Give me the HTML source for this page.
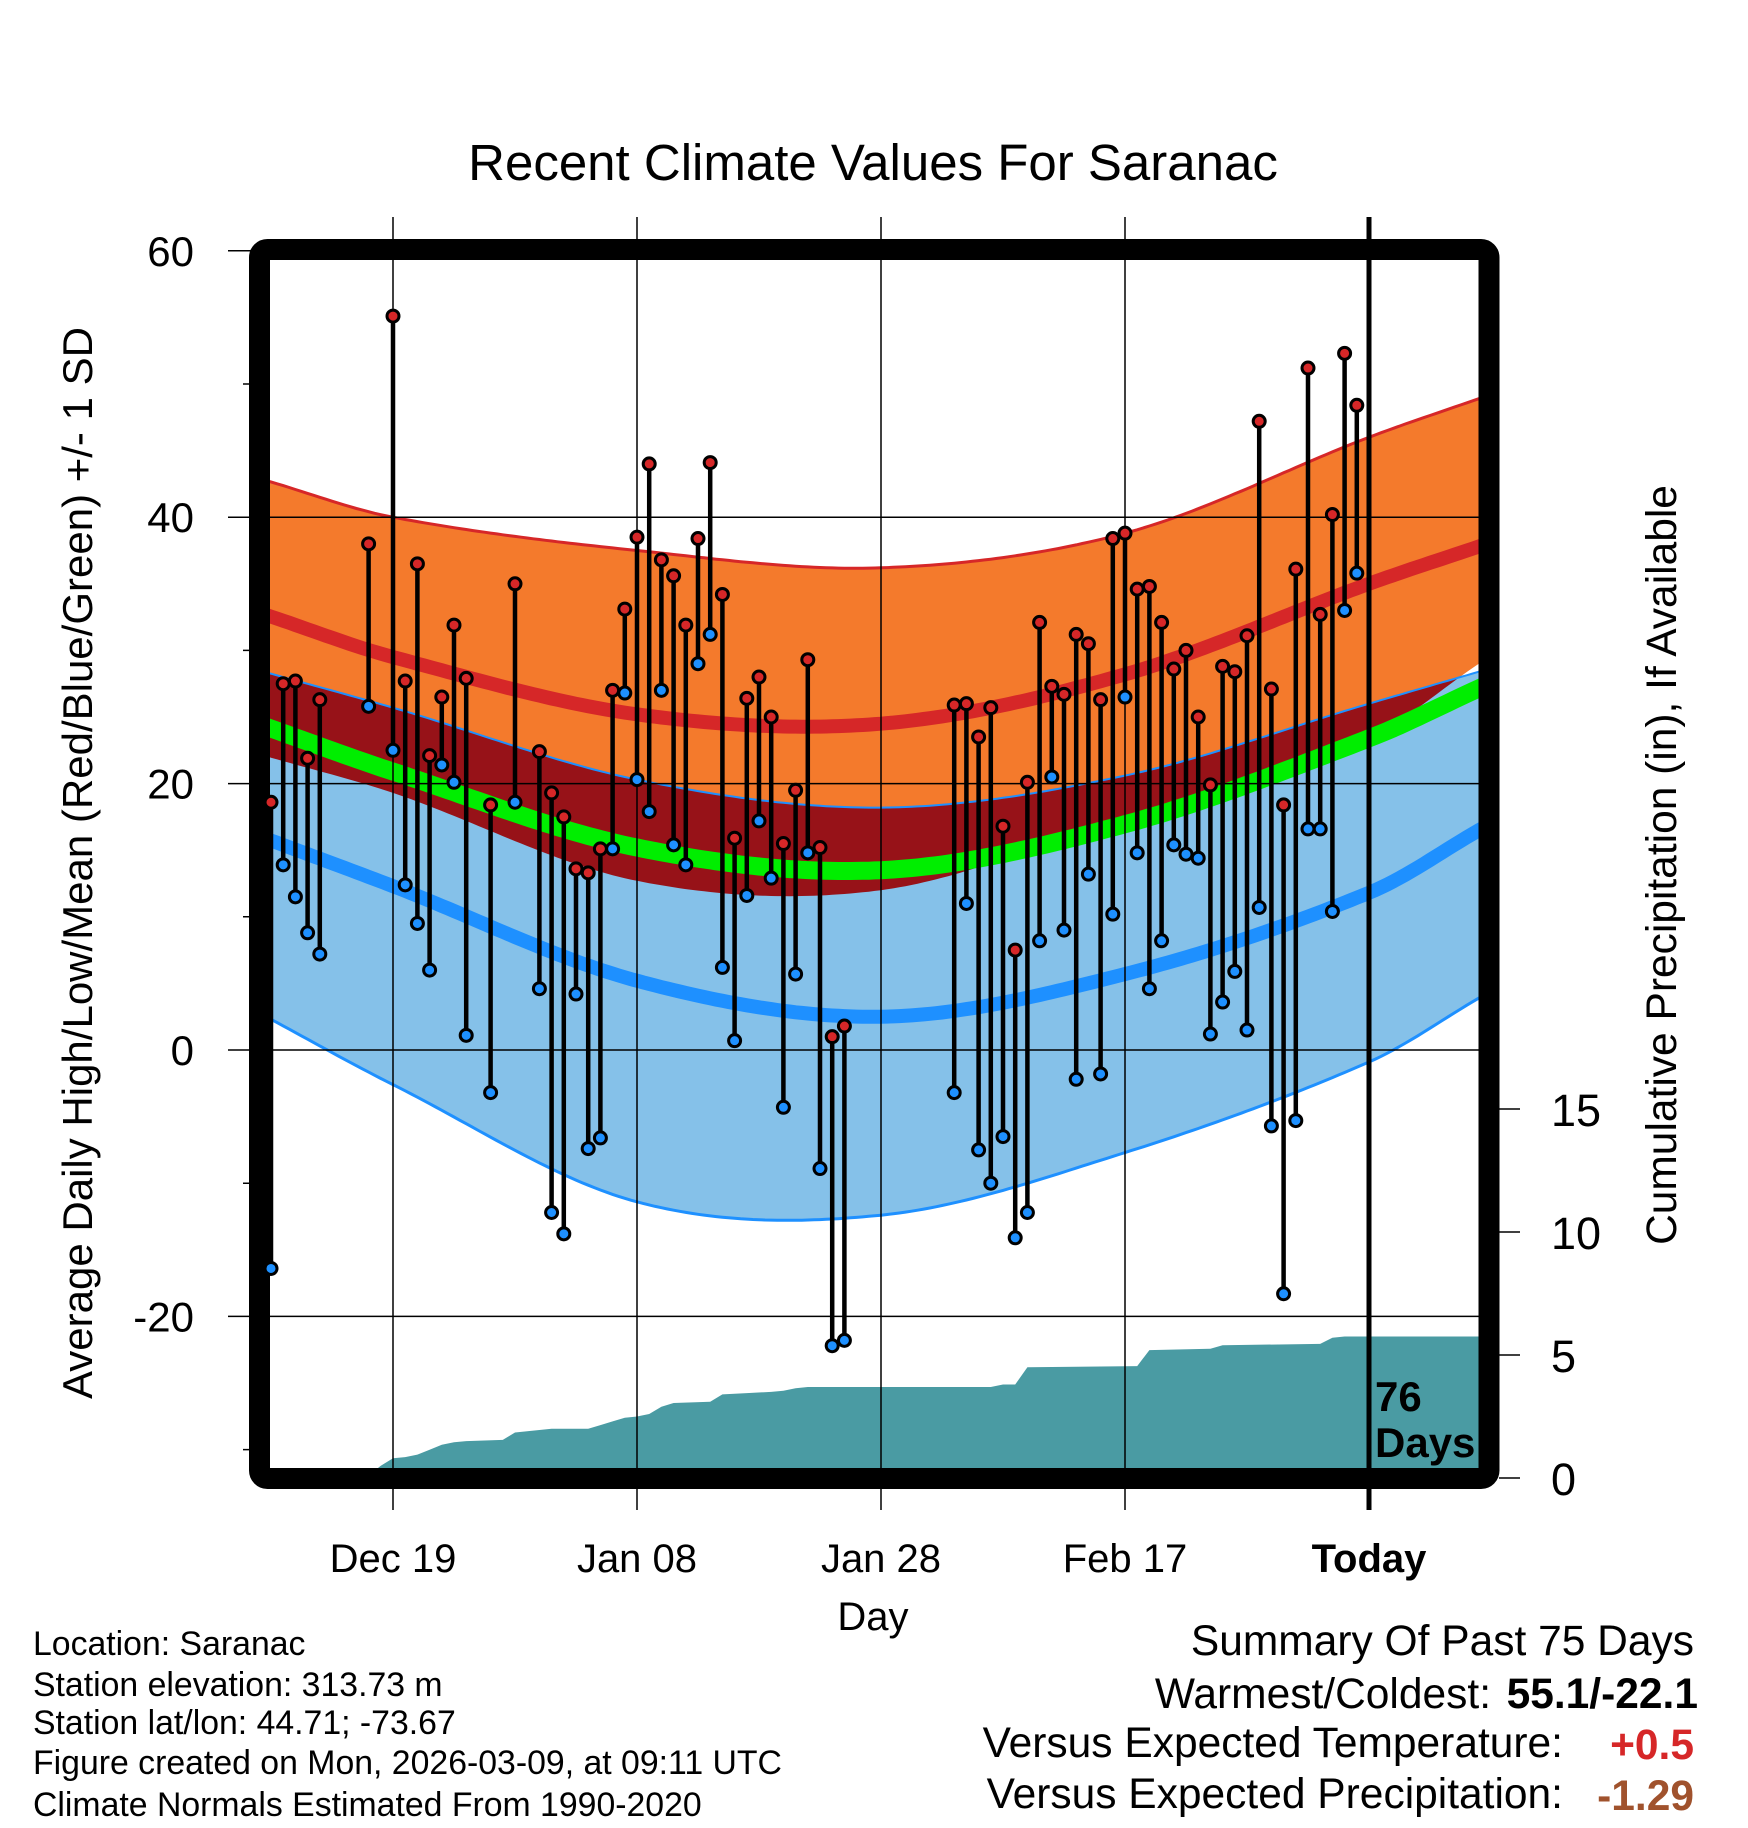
<!DOCTYPE html>
<html><head><meta charset="utf-8">
<style>
html,body{margin:0;padding:0;background:#fff;}
svg{display:block;font-family:"Liberation Sans",Arial,sans-serif;}
</style></head>
<body>
<svg id="chart" width="1748" height="1828" viewBox="0 0 1748 1828" xmlns="http://www.w3.org/2000/svg">
<defs><clipPath id="plotclip"><rect x="270" y="260" width="1209" height="1209"/></clipPath></defs>
<text x="873" y="180" font-size="51" text-anchor="middle">Recent Climate Values For Saranac</text>
<g id="bands" clip-path="url(#plotclip)"></g>
<g id="precip" clip-path="url(#plotclip)"></g>
<g id="grid"></g>
<g id="frame"></g>
<g id="points"></g>
<g id="axes"></g>
<text x="1375" y="1411" font-size="42" font-weight="bold">76</text>
<text x="1375" y="1457" font-size="42" font-weight="bold">Days</text>
<text transform="translate(92,863) rotate(-90)" font-size="42" text-anchor="middle">Average Daily High/Low/Mean (Red/Blue/Green) +/- 1 SD</text>
<text transform="translate(1676,865) rotate(-90)" font-size="42.5" text-anchor="middle">Cumulative Precipitation (in), If Available</text>
<text x="873" y="1630" font-size="40" text-anchor="middle">Day</text>
<g font-size="33.8">
<text x="33" y="1655">Location: Saranac</text>
<text x="33" y="1696">Station elevation: 313.73 m</text>
<text x="33" y="1734">Station lat/lon: 44.71; -73.67</text>
<text x="33" y="1774">Figure created on Mon, 2026-03-09, at 09:11 UTC</text>
<text x="33" y="1816">Climate Normals Estimated From 1990-2020</text>
</g>
<g font-size="42.5" text-anchor="end">
<text x="1694" y="1655">Summary Of Past 75 Days</text>
<text x="1491" y="1708">Warmest/Coldest:</text>
<text x="1698" y="1708" font-weight="bold">55.1/-22.1</text>
<text x="1563" y="1757">Versus Expected Temperature:</text>
<text x="1694" y="1759" font-weight="bold" fill="#d62728">+0.5</text>
<text x="1563" y="1808">Versus Expected Precipitation:</text>
<text x="1694" y="1810" font-weight="bold" fill="#a0522d">-1.29</text>
</g>
</svg>
<script>
// ---- data ----
const days = [-10,-9,-8,-7,-6,-2,0,1,2,3,4,5,6,8,10,12,13,14,15,16,17,18,19,20,21,22,23,24,25,26,27,28,29,30,31,32,33,34,35,36,37,46,47,48,49,50,51,52,53,54,55,56,57,58,59,60,61,62,63,64,65,66,67,68,69,70,71,72,73,74,75,76,77,78,79];
const highs = [18.6,27.5,27.7,21.9,26.3,38.0,55.1,27.7,36.5,22.1,26.5,31.9,27.9,18.4,35.0,22.4,19.3,17.5,13.6,13.3,15.1,27.0,33.1,38.5,44.0,36.8,35.6,31.9,38.4,44.1,34.2,15.9,26.4,28.0,25.0,15.5,19.5,29.3,15.2,1.0,1.8,25.9,26.0,23.5,25.7,16.8,7.5,20.1,32.1,27.3,26.7,31.2,30.5,26.3,38.4,38.8,34.6,34.8,32.1,28.6,30.0,25.0,19.9,28.8,28.4,31.1,47.2,27.1,18.4,36.1,51.2,32.7,40.2,52.3,48.4];
const lows = [-16.4,13.9,11.5,8.8,7.2,25.8,22.5,12.4,9.5,6.0,21.4,20.1,1.1,-3.2,18.6,4.6,-12.2,-13.8,4.2,-7.4,-6.6,15.1,26.8,20.3,17.9,27.0,15.4,13.9,29.0,31.2,6.2,0.7,11.6,17.2,12.9,-4.3,5.7,14.8,-8.9,-22.2,-21.8,-3.2,11.0,-7.5,-10.0,-6.5,-14.1,-12.2,8.2,20.5,9.0,-2.2,13.2,-1.8,10.2,26.5,14.8,4.6,8.2,15.4,14.7,14.4,1.2,3.6,5.9,1.5,10.7,-5.7,-18.3,-5.3,16.6,16.6,10.4,33.0,35.8];
const normDays = [-10.2,0,20,40,60,80,89];
const hiUp = [42.7,40.0,37.5,36.2,38.8,46.0,48.9];
const hiMean = [32.6,29.5,25.2,24.5,28.2,35.0,37.8];
const hiDn = [22.0,19.3,12.7,12.0,17.5,23.5,29.0];
const loUp = [28.3,25.7,20.3,18.2,20.6,26.0,28.4];
const loMean = [15.8,12.3,5.2,2.5,5.7,11.8,16.5];
const loDn = [2.4,-2.6,-11.4,-12.4,-7.7,-0.9,3.9];
const precipDays = [-10,-4,-3,-2,-1,0,1,2,3,4,5,6,9,10,11,12,13,16,17,18,19,20,21,22,23,26,27,29,31,32,33,34,49,50,51,52,61,62,67,68,76,77,78,79];
const precipCum = [0,0,0.05,0.1,0.5,0.8,0.85,0.95,1.15,1.35,1.45,1.5,1.55,1.85,1.9,1.95,2.0,2.0,2.15,2.3,2.45,2.5,2.6,2.9,3.05,3.1,3.4,3.45,3.5,3.55,3.65,3.7,3.7,3.8,3.8,4.5,4.55,5.2,5.25,5.4,5.45,5.7,5.75,5.75];
const yTicks = [60,40,20,0,-20];
const yMinor = [50,30,10,-10,-30];
const pTicks = [0,5,10,15];
const xTickDays = [0,20,40,60,80];
const xTickLabels = ["Dec 19","Jan 08","Jan 28","Feb 17","Today"];

// ---- scales ----
const X = d => 393 + 12.2*d;
const Y = v => 1050 - 13.32*v;
const P = p => 1478 - 24.6*p;
const NS = "http://www.w3.org/2000/svg";
function mk(tag, attrs, parent){const e=document.createElementNS(NS,tag);for(const k in attrs)e.setAttribute(k,attrs[k]);parent.appendChild(e);return e;}
function interp(xs, ys, x){
  let i=0; while(i<xs.length-2 && x>xs[i+1]) i++;
  const x0=xs[i],x1=xs[i+1],y0=ys[i],y1=ys[i+1];
  const m=(k)=>{ if(k<=0) return (ys[1]-ys[0])/(xs[1]-xs[0]); if(k>=xs.length-1) return (ys[k]-ys[k-1])/(xs[k]-xs[k-1]); return (ys[k+1]-ys[k-1])/(xs[k+1]-xs[k-1]);};
  const h=x1-x0, t=(x-x0)/h, t2=t*t, t3=t2*t;
  return (2*t3-3*t2+1)*y0+(t3-2*t2+t)*h*m(i)+(-2*t3+3*t2)*y1+(t3-t2)*h*m(i+1);
}
const samp=[]; for(let d=-10.5; d<=89.5; d+=0.5) samp.push(d);
const cv = arr => samp.map(d=>interp(normDays,arr,d));
const sHiUp=cv(hiUp), sHiM=cv(hiMean), sHiDn=cv(hiDn), sLoUp=cv(loUp), sLoM=cv(loMean), sLoDn=cv(loDn);
const sMean = sHiM.map((v,i)=>(v+sLoM[i])/2);
const line = arr => samp.map((d,i)=>(i?'L':'M')+X(d).toFixed(1)+','+Y(arr[i]).toFixed(1)).join('');
const band = (a,b) => line(a)+samp.slice().reverse().map((d,j)=>{const i=samp.length-1-j;return 'L'+X(d).toFixed(1)+','+Y(b[i]).toFixed(1);}).join('')+'Z';

const bands=document.getElementById('bands');
let e;
e=mk('path',{d:band(sHiUp,sHiDn),fill:'#f47a2c'},bands);


e=mk('path',{d:band(sLoUp,sLoDn),fill:'#85c1e9'},bands);


const ovTop=sLoUp.map((v,i)=>Math.max(v,sHiDn[i])), ovBot=sHiDn;
e=mk('path',{d:band(ovTop,ovBot),fill:'#971218'},bands);


e=mk('path',{d:line(sHiUp),fill:'none',stroke:'#d62728','stroke-width':3},bands);


e=mk('path',{d:line(sLoUp),fill:'none',stroke:'#1e90ff','stroke-width':2},bands);


e=mk('path',{d:line(sLoDn),fill:'none',stroke:'#1e90ff','stroke-width':3},bands);


e=mk('path',{d:line(sHiM),fill:'none',stroke:'#d62728','stroke-width':14},bands);


e=mk('path',{d:line(sLoM),fill:'none',stroke:'#1e90ff','stroke-width':14},bands);


e=mk('path',{d:line(sMean),fill:'none',stroke:'#00ee00','stroke-width':18},bands);



// precip
const pg=document.getElementById('precip');
let pd='M'+X(-10.5)+','+P(0);
precipDays.forEach((d,i)=>{pd+='L'+X(d).toFixed(1)+','+P(precipCum[i]).toFixed(1);});
pd+='L'+X(90)+','+P(precipCum[precipCum.length-1]).toFixed(1)+'L'+X(90)+','+P(0)+'Z';
e=mk('path',{d:pd,fill:'#4a9ba3'},pg);



// grid
const grid=document.getElementById('grid');
yTicks.forEach(v=>{
  e=mk('line',{x1:228,x2:1489,y1:Y(v),y2:Y(v),stroke:'#000','stroke-width':1.5},grid);
  
  
});
yMinor.forEach(v=>{
  e=mk('line',{x1:243,x2:260,y1:Y(v),y2:Y(v),stroke:'#000','stroke-width':1.5},grid);
  
  
});
xTickDays.forEach((d,i)=>{
  if(i<4){
    e=mk('line',{x1:X(d),x2:X(d),y1:217,y2:1510,stroke:'#000','stroke-width':1.5},grid);
    
    
  }
});

// frame
const fr=document.getElementById('frame');
e=mk('rect',{x:259.5,y:249.5,width:1229.5,height:1229,rx:8,fill:'none',stroke:'#000','stroke-width':21},fr);


e=mk('line',{x1:X(80),x2:X(80),y1:217,y2:1510,stroke:'#000','stroke-width':5},fr);



// points
const pts=document.getElementById('points');
days.forEach((d,i)=>{
  const x=X(d);
  e=mk('line',{x1:x,x2:x,y1:Y(highs[i]),y2:Y(lows[i]),stroke:'#000','stroke-width':4.5},pts);
  
  
});
days.forEach((d,i)=>{
  const x=X(d);
  e=mk('circle',{cx:x,cy:Y(highs[i]),r:6,fill:'#d62728',stroke:'#000','stroke-width':3},pts);
  
  
  e=mk('circle',{cx:x,cy:Y(lows[i]),r:6,fill:'#1e90ff',stroke:'#000','stroke-width':3},pts);
  
  
});

// axes labels
const ax=document.getElementById('axes');
yTicks.forEach(v=>{
  e=mk('text',{x:194,y:Y(v)+15,'font-size':42,'text-anchor':'end'},ax);
  e.textContent=String(v);
  
  
});
pTicks.forEach(p=>{
  e=mk('line',{x1:1499,x2:1520,y1:P(p),y2:P(p),stroke:'#000','stroke-width':1.5},ax);
  
  
  e=mk('text',{x:1551,y:P(p)+17,'font-size':45},ax);
  e.textContent=String(p);
  
  
});
xTickDays.forEach((d,i)=>{
  e=mk('text',{x:X(d),y:1572,'font-size':40,'text-anchor':'middle'},ax);
  if(i===4) e.setAttribute('font-weight','bold');
  e.textContent=xTickLabels[i];
  
  
});
</script>
</body></html>
